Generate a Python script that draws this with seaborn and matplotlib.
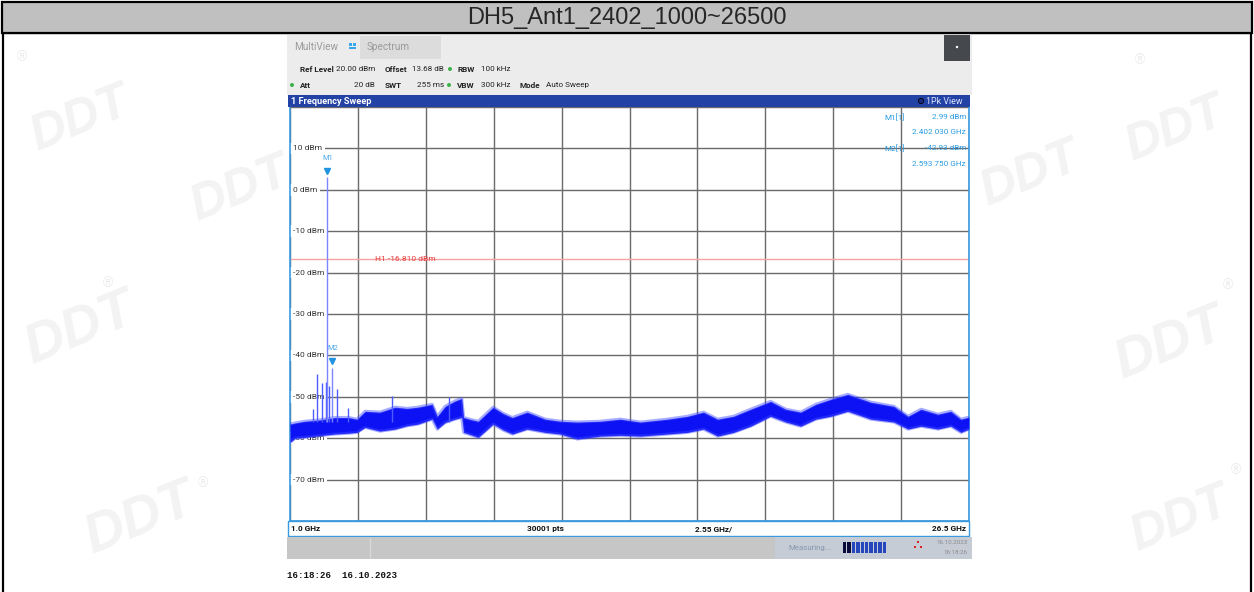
import numpy as np
import pandas as pd
import seaborn as sns
import matplotlib.pyplot as plt
from matplotlib import font_manager
from matplotlib.patches import Rectangle, Circle

# trace envelope (GHz, dBm)
trace_freq = [1.00, 1.20, 1.56, 2.10, 2.69, 3.20, 3.52, 3.82, 4.38, 4.95, 5.40, 5.81,
              6.34, 6.53, 6.83, 7.20, 7.45, 7.52, 7.80, 8.07, 8.35, 8.63, 9.00, 9.35,
              9.91, 10.59, 11.15, 11.79, 12.66, 13.41, 14.16, 15.18, 15.93, 16.53,
              17.06, 17.66, 18.30, 19.05, 19.62, 20.18, 20.75, 21.31, 21.95, 22.81,
              23.68, 24.21, 24.70, 25.33, 25.82, 26.20, 26.50]
trace_hi = [-56.6, -56.3, -55.9, -55.6, -55.0, -55.0, -55.4, -53.5, -53.7, -52.5, -52.8, -52.5,
            -51.8, -54.7, -52.3, -51.0, -50.4, -55.0, -55.5, -55.9, -54.2, -52.5, -54.0, -55.0,
            -53.7, -55.4, -55.9, -56.1, -55.9, -55.4, -56.1, -55.4, -54.7, -53.7,
            -55.4, -54.7, -53.0, -51.1, -53.0, -53.7, -51.8, -50.6, -49.4, -51.3,
            -52.3, -54.7, -53.0, -54.2, -53.5, -55.4, -54.9]
trace_lo = [-61.0, -60.0, -59.8, -59.4, -59.0, -58.8, -58.6, -57.4, -58.3, -57.8, -57.0, -56.6,
            -55.4, -57.8, -56.2, -55.4, -55.0, -58.6, -59.2, -59.8, -58.2, -56.6, -58.0, -59.0,
            -57.8, -58.6, -59.0, -60.2, -59.5, -59.3, -59.5, -59.0, -58.6, -57.8,
            -59.5, -58.6, -57.1, -54.7, -56.1, -57.1, -55.4, -54.7, -53.5, -55.4,
            -56.1, -57.8, -57.1, -57.8, -57.1, -58.6, -57.8]

# narrow spurs above the floor
spur_freq = [1.87, 2.02, 2.20, 2.35, 2.47, 2.77, 3.18, 4.84, 6.98]
spur_peak = [-53.0, -44.6, -46.7, -46.5, -47.4, -48.2, -52.8, -49.9, -50.1]

# markers and limit line
marker_names = ['M1', 'M2']
marker_freq = [2.40203, 2.59375]
marker_level = [2.99, -42.93]
h1_level = -16.81

ytick_vals = [10, 0, -10, -20, -30, -40, -50, -60, -70]
ytick_labels = ['10 dBm', '0 dBm', '-10 dBm', '-20 dBm', '-30 dBm', '-40 dBm',
                '-50 dBm', '-60 dBm', '-70 dBm']

sns.set_style('white')
names = {f.name for f in font_manager.fontManager.ttflist}
if 'Liberation Sans Narrow' in names:
    ui_font, k = 'Liberation Sans Narrow', 1.0
else:
    ui_font, k = 'Roboto', 0.86
plt.rcParams['font.family'] = ['Liberation Sans', 'DejaVu Sans']

W, H = 1254, 592
fig = plt.figure(figsize=(W / 100, H / 100), dpi=100)


def pixel_axes(z):
    a = fig.add_axes([0, 0, 1, 1])
    a.set_xlim(0, W)
    a.set_ylim(H, 0)
    a.axis('off')
    a.set_zorder(z)
    a.patch.set_visible(False)
    return a


# lower layer: faint watermarks and frame
base = pixel_axes(0)
for (wx, wy, ws) in [(80, 120, 36), (240, 190, 36), (80, 330, 40), (1030, 175, 36),
                     (1175, 130, 36), (1170, 345, 40), (140, 520, 40), (1180, 520, 36)]:
    base.text(wx, wy, 'DDT', fontsize=ws, fontweight='bold', style='italic', color='#f3f3f3',
              rotation=22, ha='center', va='center')
for (rx, ry) in [(22, 57), (108, 283), (203, 483), (1140, 60), (1228, 285), (1236, 470)]:
    base.text(rx, ry, '®', fontsize=10, color='#ebebeb', ha='center', va='center')
base.add_patch(Rectangle((3, 33), W - 6, 600, fc='none', ec='black', lw=1.6))

# upper layer: analyser chrome
bg = pixel_axes(6)
bg.add_patch(Rectangle((2, 2), W - 4, 31, fc='#c0c0c0', ec='black', lw=1.6))
bg.text(W / 2, 18, 'DH5_Ant1_2402_1000~26500', fontsize=17, ha='center', va='center',
        family='Liberation Sans')

bg.add_patch(Rectangle((287, 35), 685, 60, fc='#ececec', ec='none'))
bg.add_patch(Rectangle((360, 36), 81, 23, fc='#dcdcdc', ec='none'))
bg.add_patch(Rectangle((944, 35), 26, 26, fc='#45494d', ec='none'))
bg.add_patch(Circle((957, 47), 1.2, fc='white', ec='none'))
bg.add_patch(Rectangle((349, 43), 3, 3, fc='#39a8e8', ec='none'))
bg.add_patch(Rectangle((353, 43), 3, 3, fc='#39a8e8', ec='none'))
bg.add_patch(Rectangle((349, 47), 7, 1.5, fc='#39a8e8', ec='none'))

ui = dict(family=ui_font, va='center')
bg.text(294, 47, 'MultiView', fontsize=8.4 * k, color='#9a9a9a', **ui)
bg.text(367, 47, 'Spectrum', fontsize=8.4 * k, color='#9a9a9a', **ui)

row1 = [(300, 'Ref Level', True), (336, '20.00 dBm', False), (385, 'Offset', True),
        (412, '13.68 dB', False), (457, 'RBW', True), (481, '100 kHz', False)]
row2 = [(300, 'Att', True), (354, '20 dB', False), (385, 'SWT', True), (417, '255 ms', False),
        (457, 'VBW', True), (481, '300 kHz', False), (520, 'Mode', True), (546, 'Auto Sweep', False)]
for yy, row in [(69, row1), (85, row2)]:
    for xx, s, b in row:
        bg.text(xx, yy, s, fontsize=6.8 * k, color='#222222',
                fontweight='bold' if b else 'normal', **ui)
for (dx, dy) in [(450, 69), (292, 85), (449, 85)]:
    bg.add_patch(Circle((dx, dy), 2.0, fc='#3cb34a', ec='none'))

# blue header bar
bg.add_patch(Rectangle((288, 95), 682, 12, fc='#2242a6', ec='none'))
bg.text(291, 101, '1 Frequency Sweep', fontsize=7.6 * k, color='white', fontweight='bold', **ui)
bg.add_patch(Circle((921, 101), 2.6, fc='#1a2a80', ec='black', lw=0.6))
bg.text(926, 101, '1Pk View', fontsize=7.4 * k, color='#dfe6ff', **ui)

# frequency label row
bg.add_patch(Rectangle((288, 521), 681, 15, fc='white', ec='#3a9ae0', lw=1.0))
lab = dict(fontsize=6.9 * k, fontweight='bold', color='#111111', **ui)
bg.text(291, 528.5, '1.0 GHz', **lab)
bg.text(545, 528.5, '30001 pts', ha='center', **lab)
bg.text(714, 528.5, '2.55 GHz/', ha='center', **lab)
bg.text(966, 528.5, '26.5 GHz', ha='right', **lab)

# status bar
bg.add_patch(Rectangle((287, 537), 685, 22, fc='#c6c6c6', ec='none'))
bg.add_patch(Rectangle((775, 537), 197, 22, fc='#c5ccd6', ec='none'))
bg.plot([370, 370], [538, 558], color='#d8d8d8', lw=1)
bg.text(810, 548, 'Measuring...', fontsize=6.6 * k, color='#8797ad', ha='center', **ui)
for i in range(10):
    bg.add_patch(Rectangle((843 + i * 4.4, 542), 3.4, 11,
                           fc='#0b0b3a' if i < 2 else '#2646bd', ec='none'))
for (ix, iy) in [(918, 542), (915, 547), (921, 547)]:
    bg.add_patch(Rectangle((ix - 1.2, iy - 1.2), 2.4, 2.4, fc='#e02020', ec='none'))
bg.text(968, 542, '16.10.2023', fontsize=5.2 * k, color='#8a8a8a', ha='right', **ui)
bg.text(968, 552, '16:18:26', fontsize=5.2 * k, color='#8a8a8a', ha='right', **ui)

bg.text(287, 576, '16:18:26  16.10.2023', fontsize=6.6, family='Liberation Mono',
        fontweight='bold', color='#111111', va='center')

# marker readout
ro = dict(fontsize=6.8 * k, family=ui_font, color='#2a9be0', va='center')
bg.text(884, 117, 'M1[1]', **ro)
bg.text(966, 117, '2.99 dBm', ha='right', **ro)
bg.text(966, 132, '2.402 030 GHz', ha='right', **ro)
bg.text(884, 148, 'M2[1]', **ro)
bg.text(966, 148, '-42.93 dBm', ha='right', **ro)
bg.text(966, 164, '2.593 750 GHz', ha='right', **ro)

# main spectrum axes
x0, x1, y0, y1 = 290, 969, 107, 521
ax = fig.add_axes([x0 / W, 1 - y1 / H, (x1 - x0) / W, (y1 - y0) / H])
ax.set_zorder(5)
ax.set_facecolor('white')

df = pd.DataFrame({
    'freq': trace_freq + trace_freq,
    'level': trace_hi + trace_lo,
})
sns.lineplot(data=df, x='freq', y='level', estimator='mean', errorbar=('pi', 100),
             color='#0d12f5', lw=0, err_kws={'alpha': 1.0, 'lw': 0, 'zorder': 3},
             ax=ax, zorder=3)
sns.lineplot(x=trace_freq, y=trace_hi, color='#3c46ff', lw=2.2, alpha=0.45, ax=ax, zorder=3)
sns.lineplot(x=trace_freq, y=trace_lo, color='#3c46ff', lw=2.2, alpha=0.45, ax=ax, zorder=3)

ax.vlines(spur_freq, -56, spur_peak, color='#4e5cff', lw=1.0, zorder=3)
ax.vlines(marker_freq, -56, marker_level, color='#7b86ff', lw=1.0, zorder=3)

for name, f, lvl in zip(marker_names, marker_freq, marker_level):
    ax.plot(f, lvl + 1.6, marker='v', ms=4, color='#1f93e0', zorder=4)
    ax.text(f, lvl + 4.6, name, fontsize=6.2 * k, family=ui_font, color='#4aa8e8',
            ha='center', va='center', zorder=4)

ax.axhline(h1_level, color='#f4a3a3', lw=1.0, zorder=2)
ax.text(4.2, h1_level, 'H1 -16.810 dBm', fontsize=7.0 * k, family=ui_font,
        color='#e83b3b', va='center', zorder=4)

ax.set_xlim(1.0, 26.5)
ax.set_ylim(-80, 20)
ax.set_xticks(np.arange(1.0, 26.6, 2.55))
ax.set_yticks(np.arange(-80, 21, 10))
ax.set_xticklabels([])
ax.set_yticklabels([])
ax.tick_params(length=0)
ax.set_xlabel('')
ax.set_ylabel('')
ax.grid(True, color='#6a6a6a', lw=1.0)
ax.set_axisbelow(True)
for sp in ax.spines.values():
    sp.set_color('#3a9ae0')
    sp.set_linewidth(1.2)
ax.spines['top'].set_visible(False)

# level labels sit on the grid lines, under the trace
for v, lab_txt in zip(ytick_vals, ytick_labels):
    ax.text(0.004, v, lab_txt, transform=ax.get_yaxis_transform(), fontsize=7.0 * k,
            family=ui_font, color='#333333', va='center', ha='left', zorder=2.5,
            bbox=dict(fc='white', ec='none', pad=2.0))

fig.savefig('out.png', dpi=100)
